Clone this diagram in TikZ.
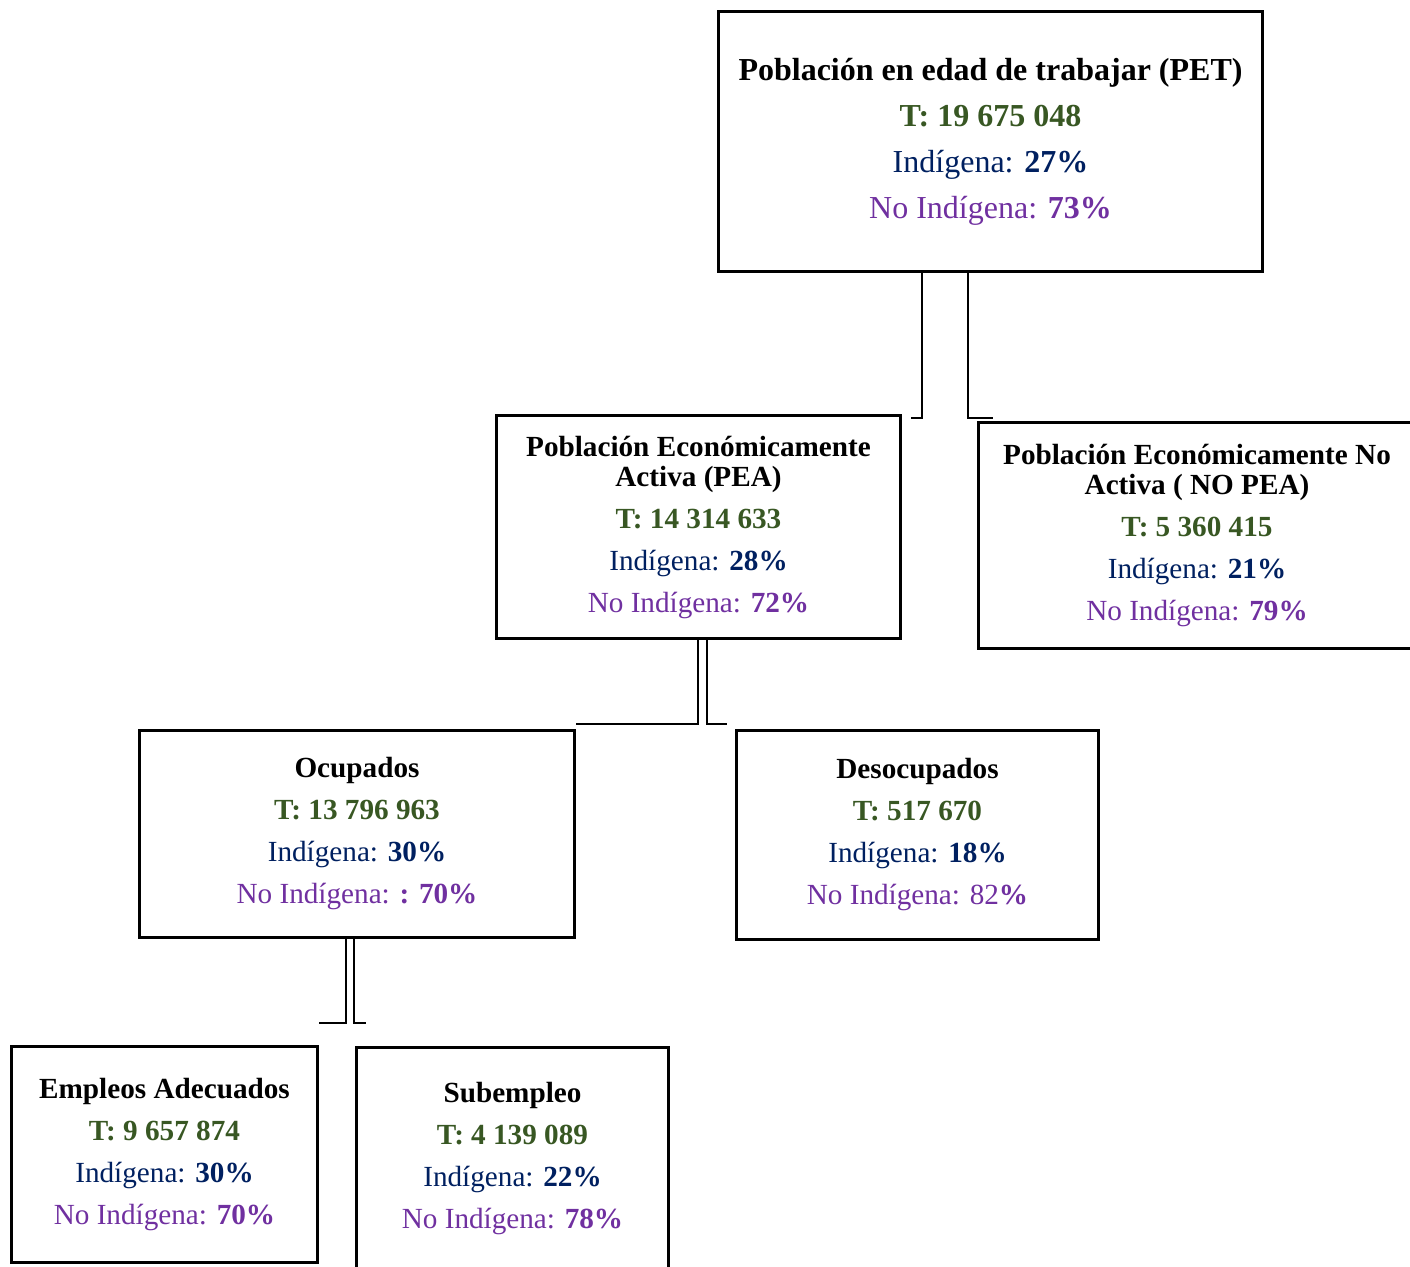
\documentclass[tikz,border=0pt]{standalone}
\usepackage{fontspec}
\setmainfont{Liberation Serif}
\usepackage{xcolor}
\usepackage{tikz}

\definecolor{verde}{HTML}{385723}
\definecolor{azul}{HTML}{002060}
\definecolor{morado}{HTML}{7030A0}

\begin{document}
\begin{tikzpicture}[x=0.5pt, y=-0.5pt,
  caja/.style={draw, line width=1.5pt, align=center, inner sep=0pt,
    font=\fontsize{14.6pt}{15pt}\selectfont,
    execute at begin node={\rule{0pt}{15.5pt}}},
  link/.style={line width=1pt}]

\useasboundingbox (0,0) rectangle (1410,1266);

% Draw the boxes
\node[caja, font=\fontsize{16pt}{15pt}\selectfont,
  minimum width=272pt, minimum height=130pt] (pet) at (990.5,141.5)
  {\textbf{Población en edad de trabajar (PET)}\\[8pt]
   \textcolor{verde}{\textbf{T: 19 675 048}}\\[8pt]
   \textcolor{azul}{Indígena: \textbf{27\%}}\\[8pt]
   \textcolor{morado}{No Indígena: \textbf{73\%}}};

\node[caja, minimum width=202pt, minimum height=111.5pt] (pea) at (698.5,527)
  {\textbf{Población Económicamente}\\
   \textbf{Activa (PEA)}\\[6pt]
   \textcolor{verde}{\textbf{T: 14 314 633}}\\[6pt]
   \textcolor{azul}{Indígena: \textbf{28\%}}\\[6pt]
   \textcolor{morado}{No Indígena: \textbf{72\%}}};

\node[caja, minimum width=219pt, minimum height=113pt] (nopea) at (1197,535.5)
  {\textbf{Población Económicamente No}\\
   \textbf{Activa ( NO PEA)}\\[6pt]
   \textcolor{verde}{\textbf{T: 5 360 415}}\\[6pt]
   \textcolor{azul}{Indígena: \textbf{21\%}}\\[6pt]
   \textcolor{morado}{No Indígena: \textbf{79\%}}};

\node[caja, minimum width=217.5pt, minimum height=103.5pt] (ocu) at (357,834)
  {\textbf{Ocupados}\\[6pt]
   \textcolor{verde}{\textbf{T: 13 796 963}}\\[6pt]
   \textcolor{azul}{Indígena: \textbf{30\%}}\\[6pt]
   \textcolor{morado}{No Indígena: \textbf{: 70\%}}};

\node[caja, minimum width=181pt, minimum height=104.5pt] (deso) at (917.5,835)
  {\textbf{Desocupados}\\[6pt]
   \textcolor{verde}{\textbf{T: 517 670}}\\[6pt]
   \textcolor{azul}{Indígena: \textbf{18\%}}\\[6pt]
   \textcolor{morado}{No Indígena: 82\textbf{\%}}};

\node[caja, minimum width=153pt, minimum height=108pt] (emp) at (164.5,1154.5)
  {\textbf{Empleos Adecuados}\\[6pt]
   \textcolor{verde}{\textbf{T: 9 657 874}}\\[6pt]
   \textcolor{azul}{Indígena: \textbf{30\%}}\\[6pt]
   \textcolor{morado}{No Indígena: \textbf{70\%}}};

\node[caja, minimum width=156pt, minimum height=112pt] (sub) at (512.5,1159)
  {\textbf{Subempleo}\\[6pt]
   \textcolor{verde}{\textbf{T: 4 139 089}}\\[6pt]
   \textcolor{azul}{Indígena: \textbf{22\%}}\\[6pt]
   \textcolor{morado}{No Indígena: \textbf{78\%}}};

% Connectors under PET
\coordinate (a1) at (922,418);
\coordinate (a2) at (911,418);
\coordinate (b1) at (968,418);
\coordinate (b2) at (993,418);
\draw[link] (pet.south -| a1) -- (a1) -- (a2);
\draw[link] (pet.south -| b1) -- (b1) -- (b2);

% Connectors under PEA
\coordinate (c1) at (698,724);
\coordinate (c2) at (576,724);
\coordinate (d1) at (707,724);
\coordinate (d2) at (727,724);
\draw[link] (pea.south -| c1) -- (c1) -- (c2);
\draw[link] (pea.south -| d1) -- (d1) -- (d2);

% Connectors under Ocupados
\coordinate (e1) at (346,1023);
\coordinate (e2) at (319,1023);
\coordinate (f1) at (354,1023);
\coordinate (f2) at (366,1023);
\draw[link] (ocu.south -| e1) -- (e1) -- (e2);
\draw[link] (ocu.south -| f1) -- (f1) -- (f2);

\end{tikzpicture}
\end{document}
